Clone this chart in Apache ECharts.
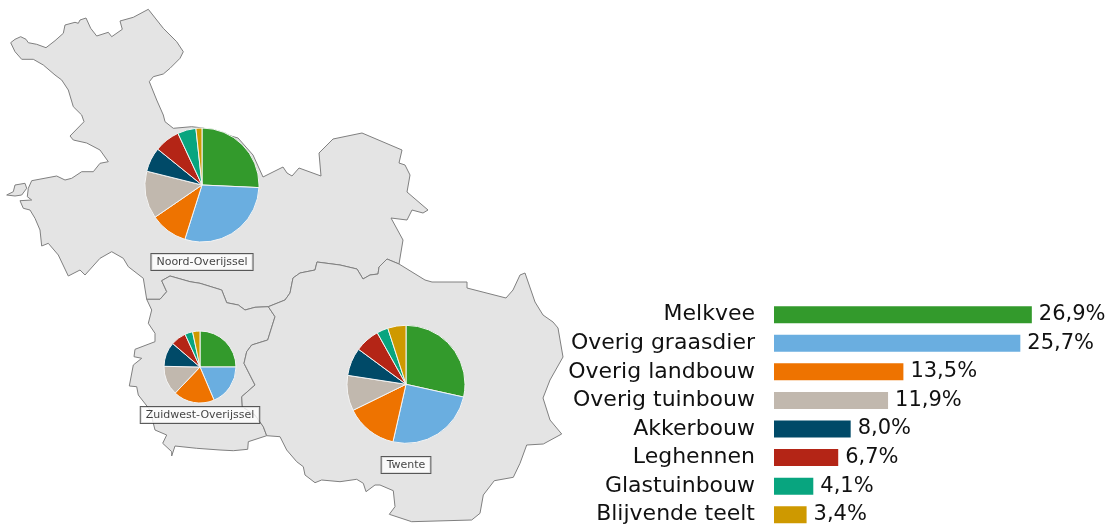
<!DOCTYPE html>
<html>
<head>
<meta charset="utf-8">
<title>Overijssel</title>
<script src="https://cdn.jsdelivr.net/npm/echarts@6/dist/echarts.min.js"></script>
<style>
  html, body { margin: 0; padding: 0; background: #fff; }
  #chart { width: 1107px; height: 526px; }
</style>
</head>
<body>
<div id="chart"></div>
<script>
var categories = ['Melkvee', 'Overig graasdier', 'Overig landbouw', 'Overig tuinbouw', 'Akkerbouw', 'Leghennen', 'Glastuinbouw', 'Blijvende teelt']
var colors = ['#339a2c', '#6aaee0', '#ee7300', '#c1b8ae', '#004a68', '#b42516', '#08a57f', '#ce9900']
var totalValues = [26.9, 25.7, 13.5, 11.9, 8.0, 6.7, 4.1, 3.4]

var regionNames = ['Noord-Overijssel', 'Zuidwest-Overijssel', 'Twente']
var noordValues = [25.6, 29.0, 10.5, 13.4, 6.9, 7.2, 5.2, 1.7]
var zuidwestValues = [25.0, 18.6, 18.5, 13.2, 11.0, 6.9, 3.5, 3.3]
var twenteValues = [28.5, 25.1, 14.2, 9.7, 7.7, 6.8, 3.1, 5.0]

var noordZuidwestBorder = [[268.3,306.7],[255,307.3],[245,310],[238.3,305],[226.7,302.7],[221.7,290],[200,283.3],[190,281.7],[170,276],[161.7,280.7],[166.7,291.7],[160,299.3],[146.7,299.3]]
var zuidwestTwenteBorder = [[266.7,435.7],[263.3,426.7],[255,415],[242.3,406.7],[241.7,396.7],[255,385],[244,363.3],[246.7,351.7],[251.7,345],[267.7,340],[275,316.7],[268.3,306.7]]
var noordTwenteBorder = [[268.3,306.7],[285,300],[290,293],[293,278],[300,273],[315,270],[317,262],[340,265],[357,269],[363,279],[370,275],[378,274],[379,267],[387,259],[399,264]]
var noordRest = [[399,264],[403,240],[391,218],[407,220],[412,210],[423,213],[428,210],[407,192],[410,175],[405,165],[399,163],[402,150],[362,133],[333,139],[319,153],[321,176],[310,172],[299,168],[292,176],[287,173],[283,167],[273,172],[263,177],[253,155],[238,138],[203,128],[191.7,126.7],[173.3,128.3],[165,121.7],[163.3,115],[156.7,100],[149.3,81.7],[153.3,76.7],[163.3,74],[170,68.3],[180,58.3],[183.3,51.7],[176.7,41.7],[163.3,28.3],[148.3,9.3],[133.3,17.3],[120,21],[122.3,29.3],[111.7,36.7],[108.3,32.3],[96.7,36],[90.7,28.3],[86,18],[80,20],[78.3,23.3],[75,22.3],[65,25],[63.3,33.3],[55,40.7],[46,47.7],[36.7,44.3],[28.3,42.7],[26,39.3],[20.7,36.7],[15,39.3],[10.7,42.7],[15,51.7],[21.7,59.3],[33.3,59.3],[43.3,65],[55,75],[61.7,80],[68.3,90],[73.3,106.7],[81.7,115],[84,121.7],[70,136],[73.3,140],[86.7,143],[100,150],[108.3,161.7],[100,163.3],[93.3,171.7],[81.7,171.7],[71.7,178.3],[65,180],[56.7,176],[31.7,180.7],[28.3,188.3],[27.3,196.7],[31.7,200],[20,200.7],[23.3,208.3],[30,210],[35,218.3],[40,230],[41.7,246],[48.3,243.3],[58.3,255],[68.3,276],[80,270],[85,275],[100,258.3],[111.7,251.7],[123.3,258.3],[128.3,266.7],[143.3,278.3],[146.7,299.3]]
var eilandOutline = [[6.7,195],[13.3,191.7],[15,185],[25,183.3],[26.7,188.3],[21.7,195],[15,196]]
var zuidwestRest = [[146.7,299.3],[151.7,310],[148.3,323.3],[155,333.3],[155,341.7],[135,349.3],[134,356.7],[141.7,358.3],[133.3,365],[129.3,386],[136.7,386.7],[138.3,395],[150,410],[155,430],[166.7,435],[162.7,443.3],[171.7,451.7],[171.7,456],[175,446],[196.7,448.3],[220,450],[233.3,450.7],[247.7,449.3],[248.3,441.7],[266.7,435.7]]
var twenteRest = [[399,264],[425,280],[432,282],[467,282],[467,288],[506,298],[513,290],[520,275],[525,273],[535,302],[543,315],[553,322],[558,328],[563,357],[550,380],[543,398],[550,420],[561.7,434],[543.3,444],[526.7,445],[520,463.3],[513.3,477.3],[494.3,480.7],[483.3,495],[480,513.3],[471.7,520],[411.7,521.7],[389.3,514.3],[395,506.7],[393.3,490.7],[380,485],[375,485],[366,491.7],[363.3,483.3],[356.7,479.3],[340,481.7],[321.7,480],[315,482.7],[305,475],[303.3,466.7],[296.7,461.7],[286.7,450],[280,436.7],[266.7,435.7]]

function reversed (points) {
  return points.slice().reverse()
}

var noordOutline = noordRest.concat(reversed(noordZuidwestBorder), noordTwenteBorder)
var zuidwestOutline = zuidwestRest.concat(zuidwestTwenteBorder, noordZuidwestBorder)
var twenteOutline = twenteRest.concat(zuidwestTwenteBorder, noordTwenteBorder)

function toRing (outline) {
  var ring = outline.map(function (p) { return [p[0], -p[1]] })
  ring.push(ring[0])
  return ring
}

function feature (name, outlines) {
  return {
    type: 'Feature',
    properties: { name: name },
    geometry: { type: 'MultiPolygon', coordinates: outlines.map(function (o) { return [toRing(o)] }) }
  }
}

echarts.registerMap('overijssel', {
  type: 'FeatureCollection',
  features: [
    feature(regionNames[0], [noordOutline, eilandOutline]),
    feature(regionNames[1], [zuidwestOutline]),
    feature(regionNames[2], [twenteOutline])
  ]
})

var myChart = echarts.init(document.getElementById('chart'))

function regionPie (values, center, radius) {
  return {
    type: 'pie',
    coordinateSystem: 'geo',
    geoIndex: 0,
    center: center,
    radius: radius,
    startAngle: 90,
    clockwise: true,
    silent: true,
    animation: false,
    label: { show: false },
    labelLine: { show: false },
    itemStyle: { borderColor: '#f4f4f4', borderWidth: 1 },
    data: values.map(function (v, i) {
      return { name: categories[i], value: v, itemStyle: { color: colors[i] } }
    })
  }
}

var font = '"DejaVu Sans", Verdana, sans-serif'

var option = {
  backgroundColor: '#fff',
  animation: false,
  geo: {
    map: 'overijssel',
    roam: false,
    silent: true,
    aspectScale: 1,
    left: 6.7,
    top: 9.3,
    width: 556.3,
    height: 512.4,
    label: { show: false },
    itemStyle: { areaColor: '#e4e4e4', borderColor: '#808080', borderWidth: 1 }
  },
  // boundaryGap off: first and last row sit on the grid edges, last label runs out of the window
  grid: { left: 774, top: 314.7, width: 300, height: 200 },
  xAxis: { type: 'value', min: 0, max: 31.3, show: false },
  yAxis: {
    type: 'category',
    inverse: true,
    boundaryGap: false,
    data: categories,
    axisLine: { show: false },
    axisTick: { show: false },
    axisLabel: { interval: 0, margin: 19, fontSize: 22, color: '#111', fontFamily: font, padding: [3, 0, 0, 0] }
  },
  series: [
    {
      type: 'bar',
      barWidth: 17,
      silent: true,
      label: {
        show: true,
        position: 'right',
        distance: 7,
        fontSize: 21,
        color: '#111',
        fontFamily: font,
        padding: [3, 0, 0, 0],
        formatter: function (p) { return p.value.toFixed(1).replace('.', ',') + '%' }
      },
      data: totalValues.map(function (v, i) {
        return { value: v, itemStyle: { color: colors[i] } }
      })
    },
    regionPie(noordValues, [202, -185], 57),
    regionPie(zuidwestValues, [200, -367], 36),
    regionPie(twenteValues, [406, -384.3], 59),
    {
      type: 'scatter',
      coordinateSystem: 'geo',
      geoIndex: 0,
      symbolSize: 0,
      silent: true,
      z: 5,
      label: {
        show: true,
        position: 'inside',
        formatter: '{b}',
        fontSize: 11,
        color: '#111',
        fontFamily: font,
        backgroundColor: '#fff',
        borderColor: '#333',
        borderWidth: 1,
        padding: [3, 5, 2, 5]
      },
      data: [
        { name: regionNames[0], value: [202, -262] },
        { name: regionNames[1], value: [200, -415] },
        { name: regionNames[2], value: [406, -465] }
      ]
    }
  ]
}

myChart.setOption(option)
window.addEventListener('resize', function () {
  myChart.resize()
})
</script>
</body>
</html>
